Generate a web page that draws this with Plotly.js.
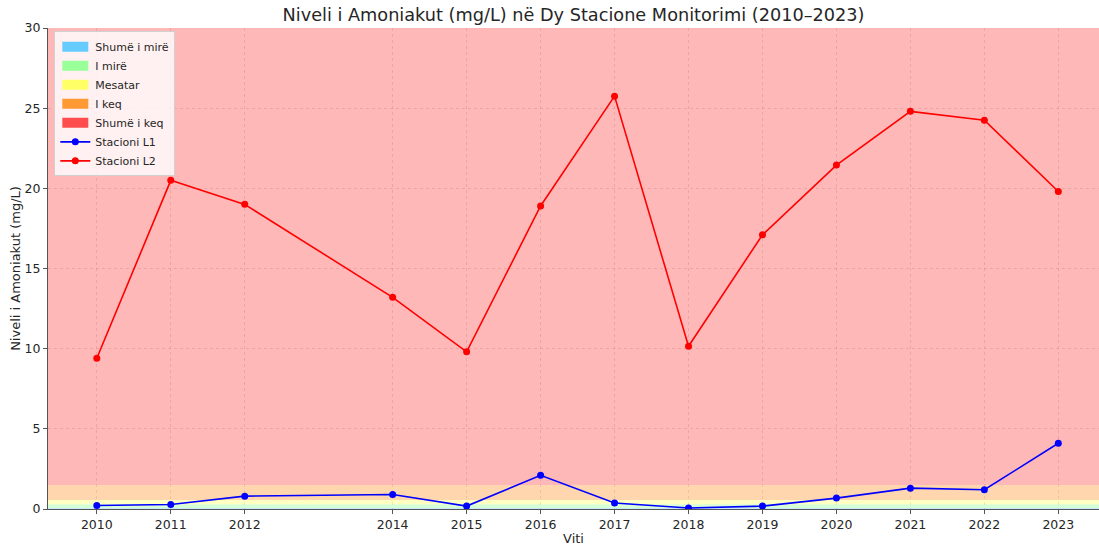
<!DOCTYPE html>
<html>
<head>
<meta charset="utf-8">
<script src="https://cdn.plot.ly/plotly-3.0.1.min.js"></script>
<style>html,body{margin:0;padding:0;background:#fff;}#chart{width:1099px;height:546px;}</style>
</head>
<body>
<div id="chart"></div>
<script>
const years = [2010, 2011, 2012, 2014, 2015, 2016, 2017, 2018, 2019, 2020, 2021, 2022, 2023];
const stacioniL1 = [0.22, 0.28, 0.8, 0.9, 0.18, 2.1, 0.37, 0.06, 0.18, 0.68, 1.3, 1.2, 4.1];
const stacioniL2 = [9.4, 20.5, 19.0, 13.2, 9.8, 18.9, 25.75, 10.15, 17.1, 21.45, 24.8, 24.25, 19.8];
const bandNames = ["Shumë i mirë", "I mirë", "Mesatar", "I keq", "Shumë i keq"];
const bandLow = [0, 0.06, 0.3, 0.56, 1.5];
const bandHigh = [0.06, 0.3, 0.56, 1.5, 30];
const bandFill = ["rgba(102,204,255,0.4)", "rgba(153,255,153,0.4)", "rgba(255,255,102,0.4)", "rgba(255,153,51,0.4)", "rgba(255,77,77,0.4)"];
const bandSwatch = ["#66ccff", "#99ff99", "#ffff66", "#ff9933", "#ff4d4d"];
const xRange = [2009.34, 2023.55];
const yRange = [0, 30];

const traces = [];
for (let i = 0; i < bandNames.length; i++) {
  traces.push({
    type: "scatter", mode: "none", fill: "toself",
    x: [xRange[0], xRange[1], xRange[1], xRange[0], xRange[0]],
    y: [bandLow[i], bandLow[i], bandHigh[i], bandHigh[i], bandLow[i]],
    fillcolor: bandFill[i], line: {width: 0},
    showlegend: false, hoverinfo: "skip"
  });
}
for (let i = 0; i < bandNames.length; i++) {
  traces.push({
    type: "scatter", mode: "none", fill: "toself",
    x: [null], y: [null], name: bandNames[i],
    fillcolor: bandSwatch[i], line: {width: 0}, showlegend: true
  });
}
traces.push({
  type: "scatter", mode: "lines+markers", name: "Stacioni L1",
  x: years, y: stacioniL1,
  line: {color: "#0000ff", width: 1.6}, marker: {color: "#0000ff", size: 7}
});
traces.push({
  type: "scatter", mode: "lines+markers", name: "Stacioni L2",
  x: years, y: stacioniL2,
  line: {color: "#ff0000", width: 1.6}, marker: {color: "#ff0000", size: 7}
});

const gridCol = "rgba(110,110,110,0.22)";
const layout = {
  width: 1099, height: 546,
  margin: {l: 48, r: 0, t: 28, b: 37},
  paper_bgcolor: "#ffffff", plot_bgcolor: "#ffffff",
  font: {family: "DejaVu Sans, sans-serif", size: 12.5, color: "#262626"},
  title: {text: "Niveli i Amoniakut (mg/L) në Dy Stacione Monitorimi (2010–2023)",
          font: {size: 17.7, color: "#262626"}, xref: "paper", x: 0.5, xanchor: "center", y: 0.972, yanchor: "middle"},
  xaxis: {
    range: xRange, tickmode: "array", tickvals: years, ticktext: years.map(String),
    showgrid: true, gridcolor: gridCol, griddash: "dot", gridwidth: 1,
    zeroline: false, showline: true, linecolor: "#555", linewidth: 1,
    ticks: "outside", ticklen: 4, tickcolor: "#555",
    title: {text: "Viti", font: {size: 13}, standoff: 3},
    layer: "above traces"
  },
  yaxis: {
    range: yRange, tickmode: "array", tickvals: [0, 5, 10, 15, 20, 25, 30],
    showgrid: true, gridcolor: gridCol, griddash: "dot", gridwidth: 1,
    zeroline: false, showline: true, linecolor: "#555", linewidth: 1,
    ticks: "outside", ticklen: 4, tickcolor: "#555",
    title: {text: "Niveli i Amoniakut (mg/L)", font: {size: 13}, standoff: 1},
    layer: "above traces"
  },
  legend: {
    x: 0.006, y: 0.993, xanchor: "left", yanchor: "top",
    bgcolor: "rgba(255,255,255,0.8)", bordercolor: "#d0d0d0", borderwidth: 1,
    font: {size: 11, color: "#262626"}, tracegroupgap: 0, itemwidth: 30
  },
  showlegend: true
};

Plotly.newPlot("chart", traces, layout, {displayModeBar: false, staticPlot: true}).then(function (gd) {
  // reshape fill swatches in the legend into rectangles like the reference
  gd.querySelectorAll(".legend .legendfill path").forEach(function (p) {
    if (p.getAttribute("d")) p.setAttribute("d", "M7,-5h26v10h-26z");
  });
});
</script>
</body>
</html>
